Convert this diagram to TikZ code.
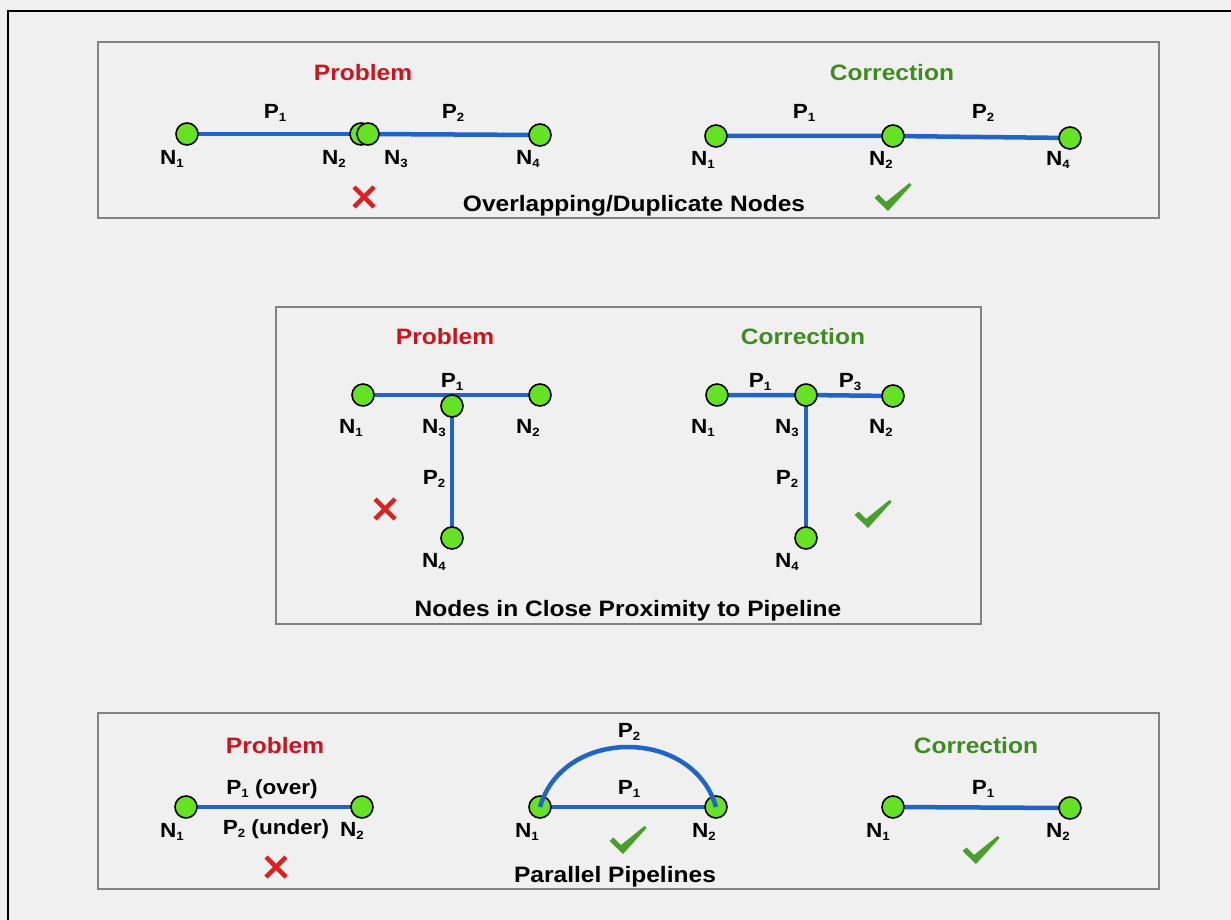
\documentclass[tikz,border=0pt]{standalone}
\usepackage{fontspec}
\setmainfont{Liberation Sans}[FakeStretch=1.1]
\definecolor{bgc}{RGB}{240,240,240}
\definecolor{panelgray}{RGB}{130,130,130}
\definecolor{nodegreen}{RGB}{102,226,36}
\definecolor{pipeblue}{RGB}{32,100,200}
\definecolor{probred}{RGB}{200,22,32}
\definecolor{corrgreen}{RGB}{62,140,32}
\definecolor{checkgreen}{RGB}{72,160,42}
\definecolor{xred}{RGB}{218,32,32}
\newcommand\lblfont{\fontsize{20.5}{23}\selectfont\bfseries}
\newcommand\ttlfont{\fontsize{22.3}{26}\selectfont\bfseries}
\newcommand\sub[1]{\raisebox{-3pt}{\fontsize{12}{13}\selectfont #1}}
\pgfdeclarelayer{back}
\pgfdeclarelayer{mid}
\pgfsetlayers{back,mid,main}
\tikzset{
  pn/.style={circle,draw=black,line width=1.6pt,fill=nodegreen,minimum size=22pt,inner sep=0pt},
  pipe/.style={draw=pipeblue,line width=4.5pt},
  lb/.style={font=\lblfont,inner sep=0pt,text=black},
  ttl/.style={font=\ttlfont,inner sep=0pt},
  prob/.style={ttl,text=probred},
  corr/.style={ttl,text=corrgreen},
  captxt/.style={ttl,text=black},
  panel/.style={draw=panelgray,line width=2pt,fill=bgc},
  okmark/.pic={\fill[checkgreen] (-18.5,1) -- (-14.5,-2.5) -- (-7,5) -- (16.5,-14) -- (18.5,-12) -- (-5,14) -- cycle;},
  badmark/.pic={\draw[xred,line width=4.5pt] (-10,-10) -- (10,10) (-10,10) -- (10,-10);}
}
\begin{document}
\begin{tikzpicture}[x=1pt,y=-1pt]
\useasboundingbox (0,0) rectangle (1231,920);
\begin{pgfonlayer}{back}
\fill[bgc] (0,0) rectangle (1231,920);
\draw[black,line width=2pt] (8,920) -- (8,11) -- (1231,11);
\draw[panel] (98,42) rectangle (1159,218);
\draw[panel] (276,307) rectangle (981,624);
\draw[panel] (98,713) rectangle (1159,889);
\end{pgfonlayer}

% ---------- Panel 1 ----------
\node[prob] (t1p) at (363,73) {Problem};
\node[corr] (t1c) at (892,73) {Correction};
\node[captxt] (c1cap) at (634,206) {Overlapping/Duplicate Nodes};
\node[pn] (a1) at (187,134) {};
\node[pn] (a2) at (361,134) {};
\node[pn] (a3) at (368,134) {};
\node[pn] (a4) at (540,135) {};
\node[lb] (a1l) at (172,159) {N\sub{1}};
\node[lb] (a2l) at (334,159) {N\sub{2}};
\node[lb] (a3l) at (396,159) {N\sub{3}};
\node[lb] (a4l) at (528,159) {N\sub{4}};
\node[lb] (ap1) at (275,113) {P\sub{1}};
\node[lb] (ap2) at (453,113) {P\sub{2}};
\pic at (364,197) {badmark};
\node[pn] (b1) at (716,136) {};
\node[pn] (b2) at (893,136) {};
\node[pn] (b4) at (1070,138) {};
\node[lb] (b1l) at (703,160) {N\sub{1}};
\node[lb] (b2l) at (881,160) {N\sub{2}};
\node[lb] (b4l) at (1058,160) {N\sub{4}};
\node[lb] (bp1) at (804,113) {P\sub{1}};
\node[lb] (bp2) at (983,113) {P\sub{2}};
\pic at (893,197) {okmark};
\begin{pgfonlayer}{mid}
\draw[pipe] (a1.center) -- (a2.center);
\draw[pipe] (a3.center) -- (a4.center);
\draw[pipe] (b1.center) -- (b2.center) -- (b4.center);
\end{pgfonlayer}

% ---------- Panel 2 ----------
\node[prob] (t2p) at (445,337) {Problem};
\node[corr] (t2c) at (803,337) {Correction};
\node[captxt] (c2cap) at (628,611) {Nodes in Close Proximity to Pipeline};
\node[pn] (c1) at (363,395) {};
\node[pn] (c2) at (540,395) {};
\node[pn] (c3) at (452,406) {};
\node[pn] (c4) at (452,538) {};
\node[lb] (c1l) at (351,428) {N\sub{1}};
\node[lb] (c3l) at (434,428) {N\sub{3}};
\node[lb] (c2l) at (528,428) {N\sub{2}};
\node[lb] (c4l) at (434,562) {N\sub{4}};
\node[lb] (cp1) at (452,382) {P\sub{1}};
\node[lb] (cp2) at (434,479) {P\sub{2}};
\pic at (385,509) {badmark};
\node[pn] (d1) at (717,395) {};
\node[pn] (d3) at (806,395) {};
\node[pn] (d2) at (893,396) {};
\node[pn] (d4) at (806,538) {};
\node[lb] (d1l) at (703,428) {N\sub{1}};
\node[lb] (d3l) at (787,428) {N\sub{3}};
\node[lb] (d2l) at (881,428) {N\sub{2}};
\node[lb] (d4l) at (787,562) {N\sub{4}};
\node[lb] (dp1) at (760,382) {P\sub{1}};
\node[lb] (dp3) at (850,382) {P\sub{3}};
\node[lb] (dp2) at (787,479) {P\sub{2}};
\pic at (873,514) {okmark};
\begin{pgfonlayer}{mid}
\draw[pipe] (c1.center) -- (c2.center);
\draw[pipe] (c3.center) -- (c4.center);
\draw[pipe] (d1.center) -- (d3.center) -- (d2.center);
\draw[pipe] (d3.center) -- (d4.center);
\end{pgfonlayer}

% ---------- Panel 3 ----------
\node[prob] (t3p) at (275,746) {Problem};
\node[corr] (t3c) at (976,746) {Correction};
\node[captxt] (c3cap) at (615,877) {Parallel Pipelines};
\node[pn] (e1) at (186,807) {};
\node[pn] (e2) at (362,807) {};
\node[lb] (e1l) at (172,832) {N\sub{1}};
\node[lb] (eunder) at (276,829) {P\sub{2} (under)};
\node[lb] (e2l) at (352,831) {N\sub{2}};
\node[lb] (eover) at (272,789) {P\sub{1} (over)};
\pic at (276,867) {badmark};
\node[pn] (f1) at (540,807) {};
\node[pn] (f2) at (716,807) {};
\node[lb] (f1l) at (527,832) {N\sub{1}};
\node[lb] (f2l) at (704,832) {N\sub{2}};
\node[lb] (fp1) at (629,789) {P\sub{1}};
\node[lb] (fp2) at (629,732) {P\sub{2}};
\pic at (628,840) {okmark};
\draw[pipe] (f1.center) .. controls (563,727) and (693,727) .. (f2.center);
\node[pn] (g1) at (893,807) {};
\node[pn] (g2) at (1070,808) {};
\node[lb] (g1l) at (878,832) {N\sub{1}};
\node[lb] (g2l) at (1058,832) {N\sub{2}};
\node[lb] (gp1) at (983,789) {P\sub{1}};
\pic at (981,850) {okmark};
\begin{pgfonlayer}{mid}
\draw[pipe] (e1.center) -- (e2.center);
\draw[pipe] (f1.center) -- (f2.center);
\draw[pipe] (g1.center) -- (g2.center);
\end{pgfonlayer}
\end{tikzpicture}
\end{document}
